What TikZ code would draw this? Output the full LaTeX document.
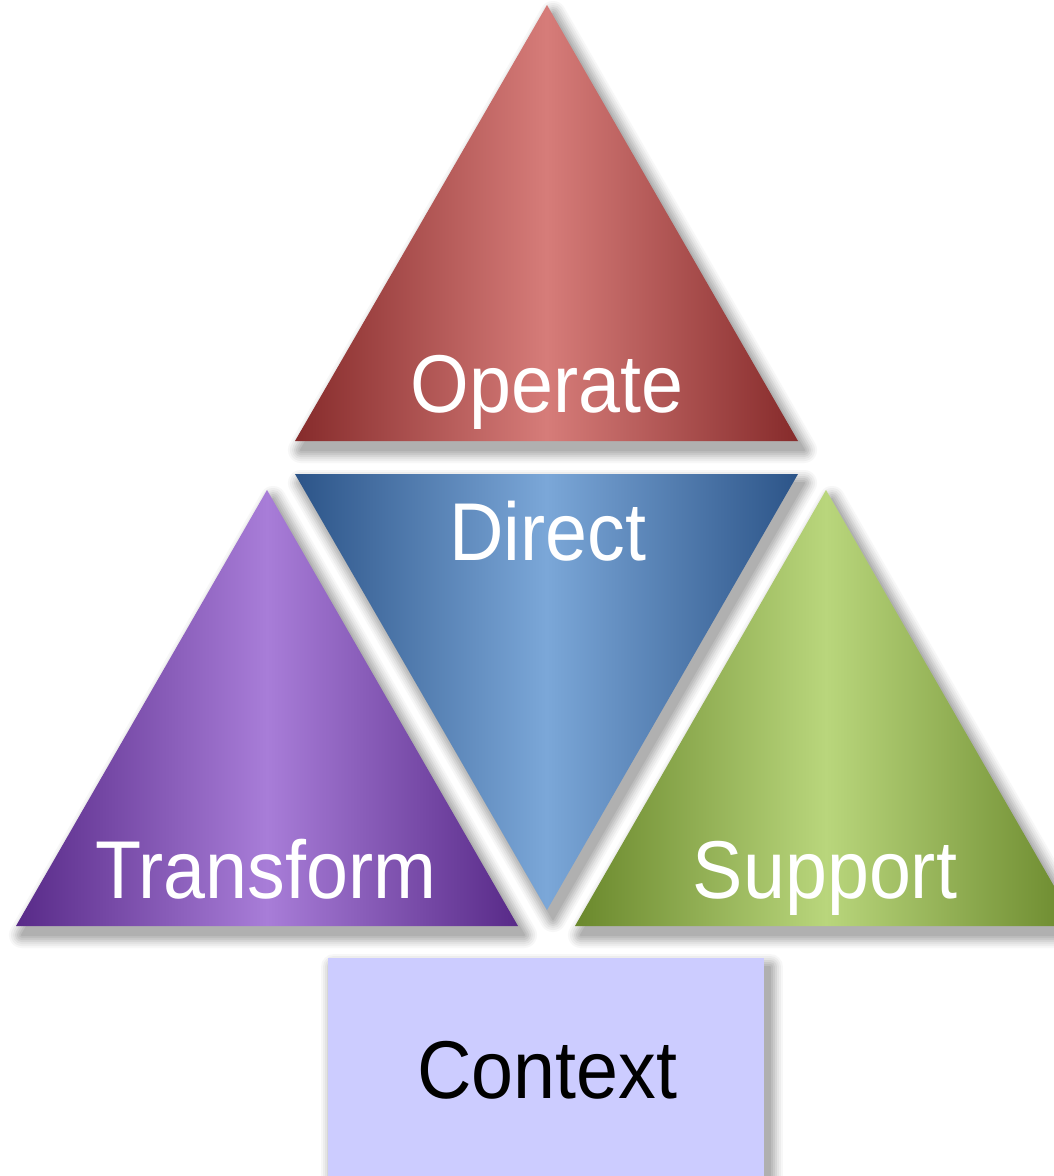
\documentclass[tikz,border=0pt]{standalone}
\usepackage{fontspec}
\setmainfont[FakeStretch=0.92]{Liberation Sans}
\definecolor{opedge}{HTML}{862B2B}\definecolor{opmid}{HTML}{D67C79}
\definecolor{diedge}{HTML}{2C5488}\definecolor{dimid}{HTML}{7BA7D8}
\definecolor{tredge}{HTML}{582A88}\definecolor{trmid}{HTML}{A87DD8}
\definecolor{suedge}{HTML}{6A882C}\definecolor{sumid}{HTML}{B9D67C}
\definecolor{ctxfill}{HTML}{CCCCFF}
\newcommand\dropshade[1]{\foreach \w/\p in {26/3,22/7,18/11,14/16,10/21,6/26,2/31}{%
  \path[fill=black!\p,draw=black!\p,line width=\w pt,line join=round,shift={(6,9)}] #1;}}
\tikzset{lab/.style={font=\fontsize{82}{90}\selectfont,text=white,anchor=base,inner sep=0pt}}

\begin{document}
\begin{tikzpicture}[x=1pt,y=-1pt]
\useasboundingbox (0,0) rectangle (1053,1176);
\fill[white] (0,0) rectangle (1053,1176);
% shadows first
\dropshade{(547,5)--(798,441)--(295,441)--cycle}
\dropshade{(295,474)--(798,474)--(547,910)--cycle}
\dropshade{(267,490)--(518,926)--(16,926)--cycle}
\dropshade{(826,490)--(1077,926)--(575,926)--cycle}
\dropshade{(328,958)--(764,958)--(764,1220)--(328,1220)--cycle}
% four triangles
\shade[left color=opedge,right color=opedge,middle color=opmid] (547,5)--(798,441)--(295,441)--cycle;
\shade[left color=diedge,right color=diedge,middle color=dimid] (295,474)--(798,474)--(547,910)--cycle;
\shade[left color=tredge,right color=tredge,middle color=trmid] (267,490)--(518,926)--(16,926)--cycle;
\shade[left color=suedge,right color=suedge,middle color=sumid] (826,490)--(1077,926)--(575,926)--cycle;
% context box
\fill[ctxfill] (328,958) rectangle (764,1220);
\node[lab] (operate) at (547,412){Operate};
\node[lab] (direct) at (548,560){Direct};
\node[lab] (transform) at (266,898){Transform};
\node[lab] (support) at (825,898){Support};
\node[lab,text=black] (context) at (547,1098){Context};
\end{tikzpicture}
\end{document}
